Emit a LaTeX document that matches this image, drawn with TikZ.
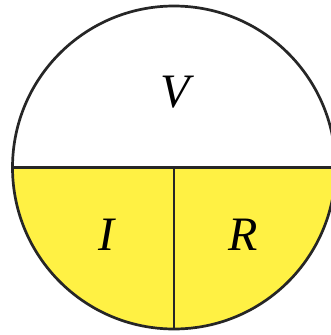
\documentclass[tikz,border=0pt]{standalone}
\usepackage{fontspec}
\setmainfont{Liberation Serif}
\definecolor{fillyellow}{RGB}{255,241,68}
\begin{document}
\begin{tikzpicture}[x=1pt,y=-1pt,
  edge/.style={line width=2.7pt,draw=black!85},
  lbl/.style={font=\fontsize{48}{48}\selectfont\itshape,inner sep=0pt}]
\useasboundingbox (0,0) rectangle (331,335);
\clip (0,0) rectangle (331,335);
\coordinate (c) at (174,167.5);
\coordinate (l) at (12.5,167.5);
\coordinate (r) at (335.5,167.5);
\coordinate (b) at (174,329);
\fill[fillyellow] (l) arc[start angle=180,end angle=0,radius=161.5] -- cycle;
\draw[edge] (c) circle[radius=161.5];
\draw[edge] (l) -- (r);
\draw[edge] (c) -- (b);
\node[lbl] (V) at (175,92) {V};
\node[lbl] (I) at (106,235) {I};
\node[lbl] (R) at (243,235) {R};
\end{tikzpicture}
\end{document}
